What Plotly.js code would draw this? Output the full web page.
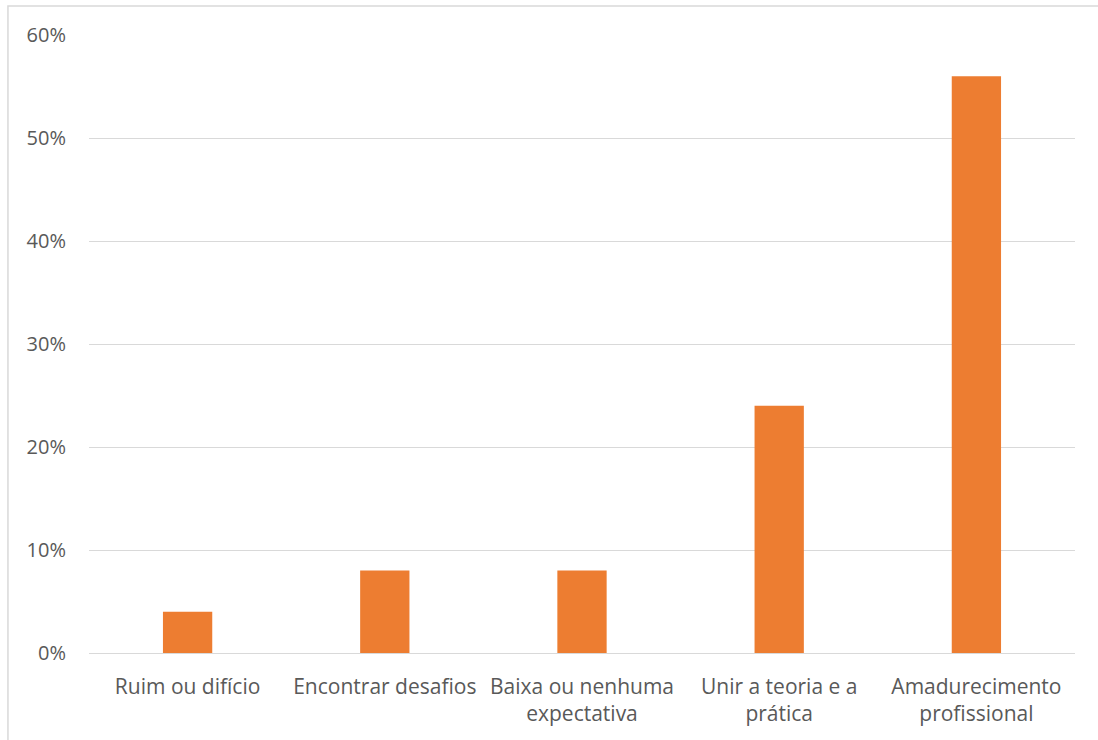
<!DOCTYPE html>
<html>
<head>
<meta charset="utf-8">
<script src="https://cdn.plot.ly/plotly-3.0.1.min.js"></script>
<style>html,body{margin:0;padding:0;background:#fff;}#chart{width:1098px;height:740px;}</style>
</head>
<body>
<div id="chart"></div>
<script>
const categories = ["Ruim ou difício", "Encontrar desafios", "Baixa ou nenhuma<br>expectativa", "Unir a teoria e a<br>prática", "Amadurecimento<br>profissional"];
const values = [0.04, 0.08, 0.08, 0.24, 0.56];
const tickVals = [0, 0.1, 0.2, 0.3, 0.4, 0.5, 0.6];
const tickText = ["0%", "10%", "20%", "30%", "40%", "50%", "60%"];

const trace = {
  type: 'bar', x: categories, y: values,
  marker: {color: '#ED7D31'}, hoverinfo: 'x+y'
};
const layout = {
  width: 1098, height: 740,
  margin: {l: 89, r: 23, t: 35, b: 87},
  paper_bgcolor: '#fff', plot_bgcolor: '#fff',
  bargap: 0.75,
  showlegend: false,
  font: {family: 'Open Sans, Liberation Sans, sans-serif', size: 20, color: '#595959'},
  xaxis: {showgrid: false, showline: false, zeroline: false, ticks: '', ticklabelstandoff: 19,
          tickfont: {size: 21, color: '#595959'}},
  yaxis: {range: [0, 0.6], tickvals: tickVals, ticktext: tickText, showgrid: true, gridcolor: '#d9d9d9',
          gridwidth: 1.3, zeroline: true, zerolinecolor: '#d9d9d9', zerolinewidth: 1.3, showline: false,
          ticks: '', ticklabelstandoff: 22, tickfont: {size: 20, color: '#595959'}},
  shapes: [{type: 'rect', xref: 'paper', yref: 'paper', x0: -0.0822, x1: 1.2, y0: -0.4, y1: 1.0469,
            line: {color: '#d9d9d9', width: 1.5}, fillcolor: 'rgba(0,0,0,0)'}]
};
Plotly.newPlot('chart', [trace], layout, {displayModeBar: false});
</script>
</body>
</html>
